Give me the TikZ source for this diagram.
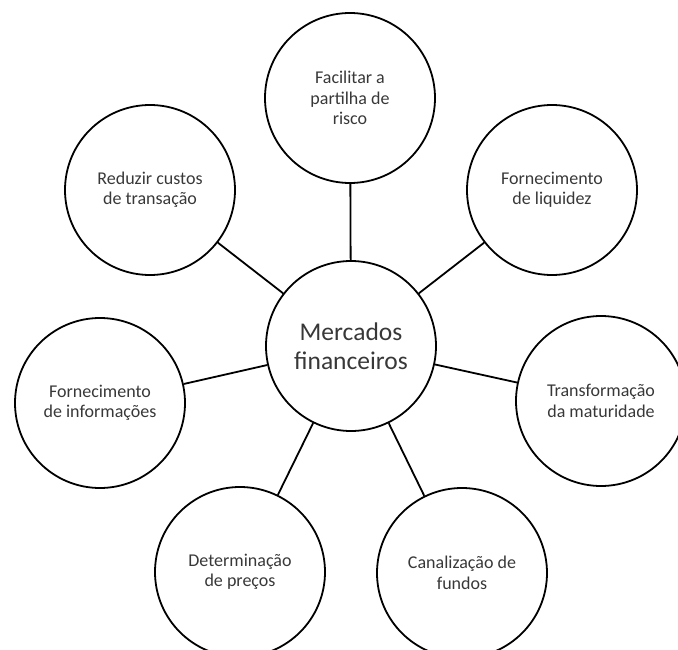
\documentclass[tikz,border=0pt]{standalone}
\usepackage{fontspec}
\setmainfont{Carlito}
\begin{document}
\begin{tikzpicture}[x=1pt,y=-1pt,
  bubble/.style={circle, draw=black, line width=1.8pt, minimum size=170pt,
    inner sep=0pt, align=center, text=black!78, font=\fontsize{18}{20.5}\selectfont},
  hub/.style={bubble, font=\fontsize{25.5}{28.5}\selectfont},
  spoke/.style={draw=black, line width=1.8pt}]
  \useasboundingbox (0,0) rectangle (678,650);

  % central topic
  \node[hub] (c) at (351,346) {Mercados\\financeiros};

  % surrounding functions
  \node[bubble] (t)  at (350,98)  {Facilitar a\\partilha de\\risco};
  \node[bubble] (tr) at (552,190) {Fornecimento\\de liquidez};
  \node[bubble] (r)  at (601,401) {Transformação\\da maturidade};
  \node[bubble] (br) at (462,573) {Canalização de\\fundos};
  \node[bubble] (bl) at (240,572) {Determinação\\de preços};
  \node[bubble] (l)  at (100,403) {Fornecimento\\de informações};
  \node[bubble] (tl) at (150,190) {Reduzir custos\\de transação};

  % spokes
  \foreach \n in {t,tr,r,br,bl,l,tl}
    \draw[spoke] (c) -- (\n);
\end{tikzpicture}
\end{document}
